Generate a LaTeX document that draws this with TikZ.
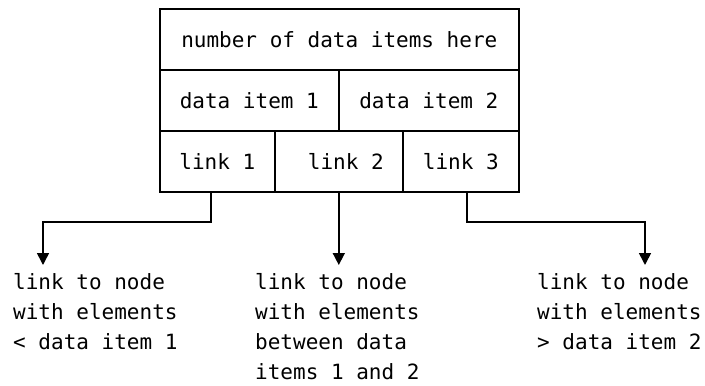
\documentclass[tikz,border=0pt]{standalone}
\usepackage{fontspec}
\setmonofont{DejaVu Sans Mono}
\usetikzlibrary{arrows.meta}
\begin{document}
\begin{tikzpicture}[x=1pt,y=-1pt,
 txt/.style={font=\ttfamily\fontsize{21}{30}\selectfont},
 cell/.style={txt,draw,line width=1.6pt,rectangle,inner sep=0pt,minimum height=61pt,anchor=north west},
 lbl/.style={txt,anchor=north west,inner sep=0pt,align=left},
 conn/.style={line width=1.6pt,-{Triangle[width=12pt,length=12pt]}}]
\useasboundingbox (0,0) rectangle (705,386);
\node[cell,minimum width=359pt] (num) at (159,8) {number of data items here};
\node[cell,minimum width=179pt] (d1) at (159,69) {data item 1};
\node[cell,minimum width=180pt] (d2) at (338,69) {data item 2};
\node[cell,minimum width=115pt] (l1) at (159,130) {link 1};
\node[cell,minimum width=128pt] (l2) at (274,130) {\hspace*{14pt}link 2};
\node[cell,minimum width=116pt] (l3) at (402,130) {link 3};
\node[lbl] (t1) at (13,273) {link to node\\with elements\\< data item 1};
\node[lbl] (t2) at (255,273) {link to node\\with elements\\between data\\items 1 and 2};
\node[lbl] (t3) at (537,273) {link to node\\with elements\\> data item 2};
\coordinate (m1) at (43,222);
\coordinate (e1) at (43,265);
\coordinate (e2) at (338,265);
\coordinate (m3) at (645,222);
\coordinate (e3) at (645,265);
\draw[conn] ([xshift=-6.5pt]l1.south) |- (m1) -- (e1);
\draw[conn] (l2.south) -- (l2.south |- e2);
\draw[conn] ([xshift=6pt]l3.south) |- (m3) -- (e3);
\end{tikzpicture}
\end{document}
